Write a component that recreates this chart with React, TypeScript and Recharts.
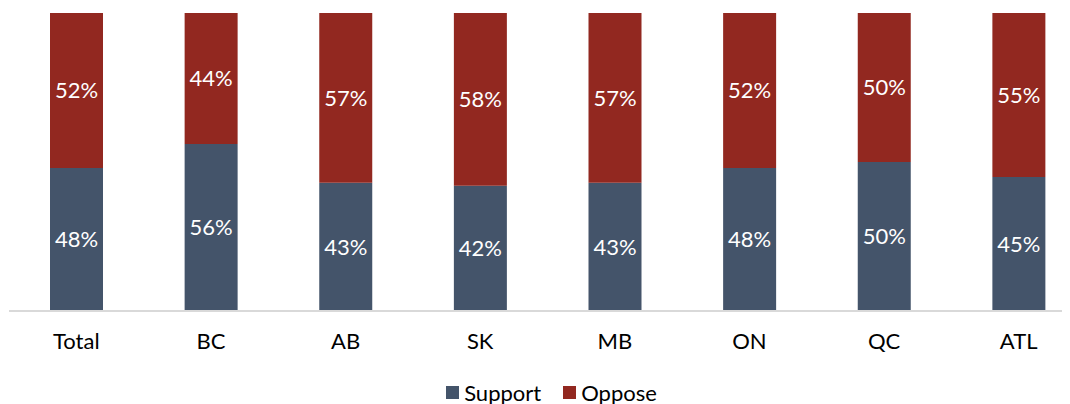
import { BarChart, Bar, XAxis, YAxis, Legend, LabelList } from 'recharts';

const regions = ['Total', 'BC', 'AB', 'SK', 'MB', 'ON', 'QC', 'ATL'];
const support = [48, 56, 43, 42, 43, 48, 50, 45];
const oppose = [52, 44, 57, 58, 57, 52, 50, 55];
const seriesOrder = ['Support', 'Oppose'];

const data = regions.map((region, i) => ({ region, support: support[i], oppose: oppose[i] }));

const FONT = 'Lato, "Open Sans", sans-serif';

const renderLegend = (props: any) => {
  const items = [...(props.payload || [])].sort(
    (a: any, b: any) => seriesOrder.indexOf(a.value) - seriesOrder.indexOf(b.value)
  );
  return (
    <div style={{ display: 'flex', justifyContent: 'center', gap: 22, fontFamily: FONT, fontSize: 22, color: '#000', paddingLeft: 8 }}>
      {items.map((entry: any) => (
        <div key={entry.value} style={{ display: 'flex', alignItems: 'center' }}>
          <span style={{ display: 'inline-block', width: 13, height: 13, background: entry.color, marginRight: 5 }} />
          <span>{entry.value}</span>
        </div>
      ))}
    </div>
  );
};

export default function App() {
  return (
    <div style={{ width: 1062, height: 396, overflow: 'hidden', background: '#fff' }}>
      <BarChart
        width={1080}
        height={400}
        data={data}
        margin={{ top: 5, right: 2, left: 1, bottom: 10 }}
        barSize={53}
      >
        <XAxis
          dataKey="region"
          axisLine={{ stroke: '#d9d9d9', strokeWidth: 2 }}
          tickLine={false}
          tickMargin={16}
          height={60}
          tick={{ fill: '#000', fontSize: 22, fontFamily: FONT }}
        />
        <YAxis hide domain={[0, 100]} />
        <Legend content={renderLegend} verticalAlign="bottom" wrapperStyle={{ bottom: 2 }} />
        <Bar dataKey="support" name="Support" stackId="a" fill="#44546A" isAnimationActive={false}>
          <LabelList
            dataKey="support"
            position="center"
            formatter={(v: any) => `${v}%`}
            style={{ fill: '#fff', fontSize: 22, fontFamily: FONT }}
          />
        </Bar>
        <Bar dataKey="oppose" name="Oppose" stackId="a" fill="#922820" isAnimationActive={false}>
          <LabelList
            dataKey="oppose"
            position="center"
            formatter={(v: any) => `${v}%`}
            style={{ fill: '#fff', fontSize: 22, fontFamily: FONT }}
          />
        </Bar>
      </BarChart>
    </div>
  );
}
